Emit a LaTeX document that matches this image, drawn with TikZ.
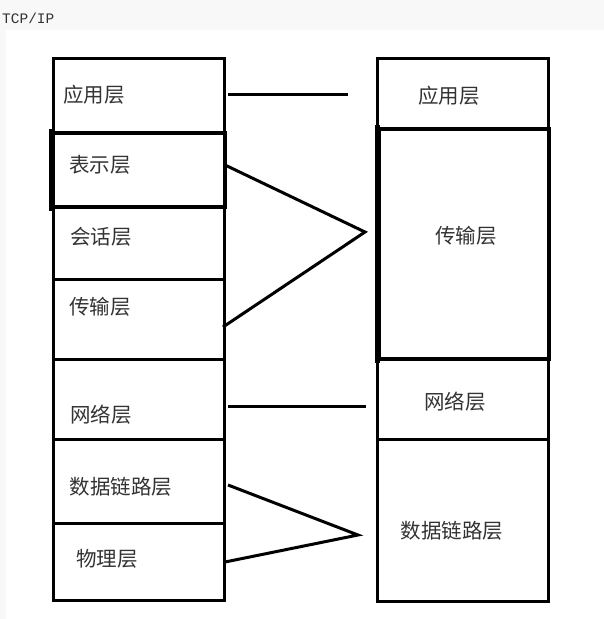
\documentclass[tikz,border=0pt]{standalone}
\usepackage{fontspec}
\newfontfamily\cjk{Noto Sans CJK SC}
\setmonofont{Liberation Mono}
\definecolor{pagegrey}{HTML}{F8F8F8}
\definecolor{txt}{HTML}{333333}
\begin{document}
\begin{tikzpicture}[x=1pt,y=-1pt,
  layer/.style={draw=black, line width=3pt, inner sep=0pt, anchor=north west, minimum width=171pt},
  thicklayer/.style={layer, line width=3.6pt},
  thickside/.style={draw=black, line width=5pt, line cap=rect},
  lbl/.style={text=txt, inner sep=0pt, font=\cjk\fontsize{20.5}{24}\selectfont},
  link/.style={draw=black, line width=3pt, line join=miter}]
\fill[pagegrey] (0,0) rectangle (604,619);
\fill[white] (6,30) rectangle (604,619);
\useasboundingbox (0,0) rectangle (604,619);
\node[anchor=west, inner sep=0pt, text=txt, font=\ttfamily\fontsize{14.5}{17}\selectfont] (title) at (2,18) {TCP/IP};
% left column (OSI)
\node[layer, minimum height=74pt] (app) at (52,57) {};
\node[layer, minimum height=73pt] (sess) at (52,205) {};
\node[layer, minimum height=80pt] (trans) at (52,278) {};
\node[layer, minimum height=80pt] (net) at (52,358) {};
\node[layer, minimum height=84pt] (dl) at (52,438) {};
\node[layer, minimum height=77pt] (phy) at (52,522) {};
\node[thicklayer, minimum width=172pt, minimum height=74pt] (pres) at (51,131) {};
\draw[thickside] (pres.north west) -- (pres.south west);
% right column (TCP/IP)
\node[layer, minimum height=70pt] (rapp) at (376,57) {};
\node[layer, minimum height=81pt] (rnet) at (376,357) {};
\node[layer, minimum height=162pt] (rdl) at (376,438) {};
\node[thicklayer, minimum width=170pt, minimum height=230pt] (rtrans) at (377,127) {};
\draw[thickside] (rtrans.north west) -- (rtrans.south west);
% labels
\node[lbl] (tapp) at (94,95) {应用层};
\node[lbl] (tpres) at (100,165) {表示层};
\node[lbl] (tsess) at (101,237) {会话层};
\node[lbl] (ttrans) at (100,307) {传输层};
\node[lbl] (tnet) at (101,415) {网络层};
\node[lbl] (tdl) at (121,487) {数据链路层};
\node[lbl] (tphy) at (107,559) {物理层};
\node[lbl] (trapp) at (449,96) {应用层};
\node[lbl] (trtrans) at (466,236) {传输层};
\node[lbl] (trnet) at (455,402) {网络层};
\node[lbl] (trdl) at (452,531) {数据链路层};
% connectors
\coordinate (c1a) at (228,94);
\coordinate (c1b) at (348,94);
\coordinate (c2a) at (225,165);
\coordinate (c2m) at (365,232);
\coordinate (c2b) at (223,327);
\coordinate (c3a) at (228,406);
\coordinate (c3b) at (366,406);
\coordinate (c4a) at (228,485);
\coordinate (c4m) at (358,535);
\coordinate (c4b) at (225,562);
\draw[link] (c1a) -- (c1b);
\draw[link] (c2a) -- (c2m) -- (c2b);
\draw[link] (c3a) -- (c3b);
\draw[link] (c4a) -- (c4m) -- (c4b);
\end{tikzpicture}
\end{document}
